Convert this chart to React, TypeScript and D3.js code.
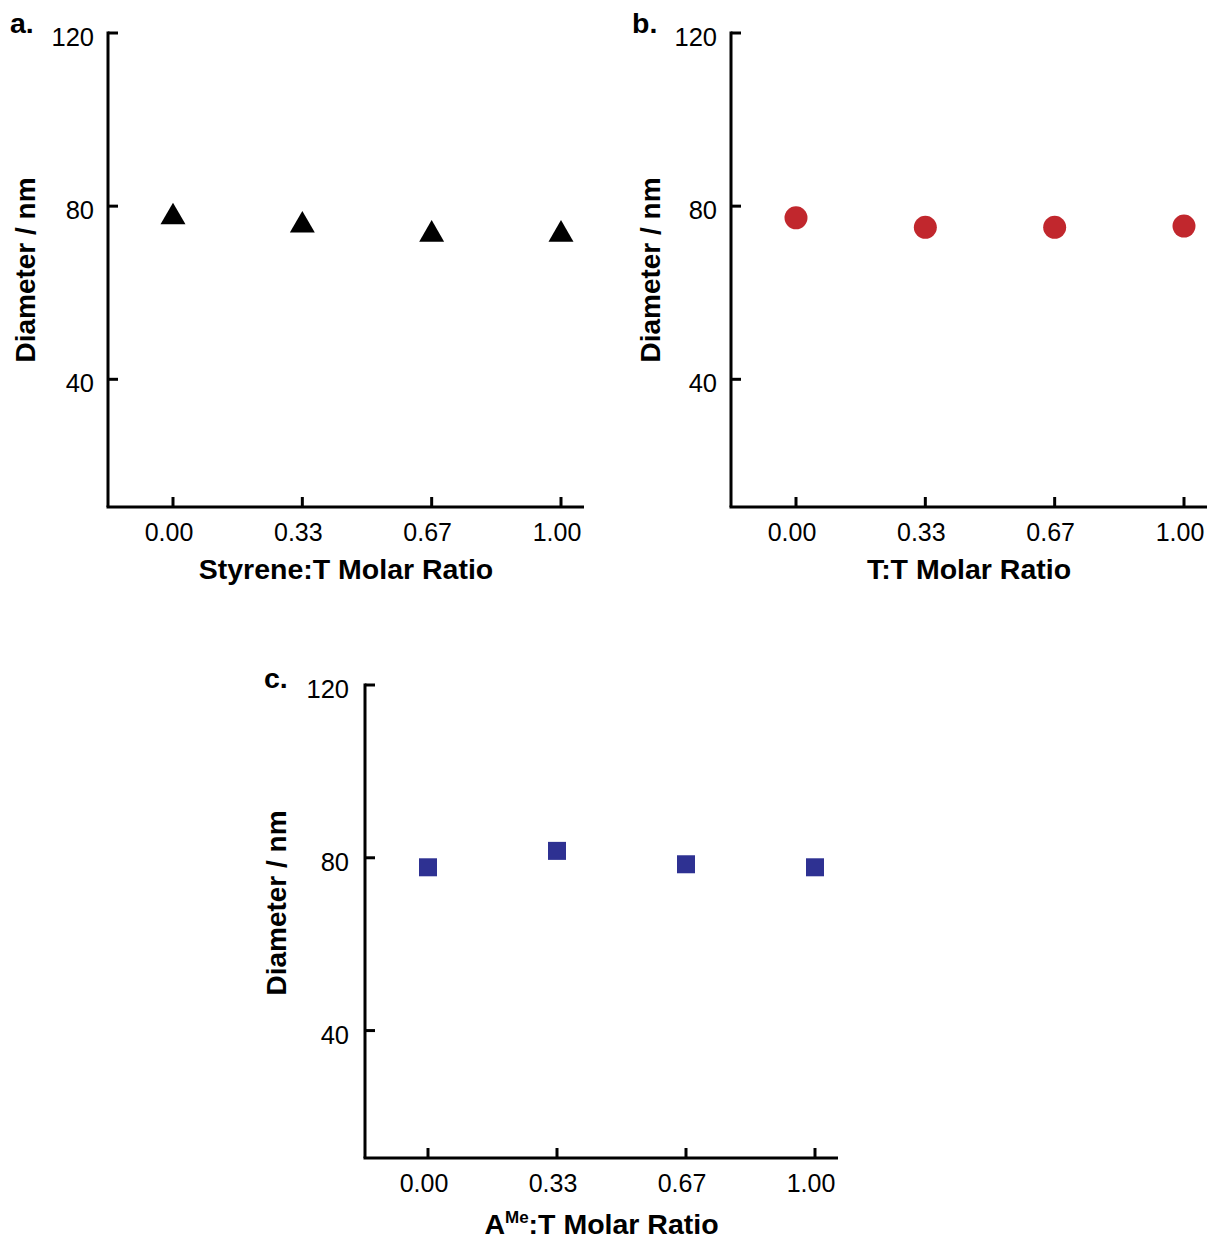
import React from "react";
import * as d3 from "d3";

// molar ratio categories (x ticks)
const ratios = ["0.00", "0.33", "0.67", "1.00"];
// diameter values (nm)
const styreneDiameter = [78.3, 76.4, 74.3, 74.3];
const ttDiameter = [77.3, 75.1, 75.1, 75.4];
const ameDiameter = [77.8, 81.6, 78.5, 77.8];
const yTicks = [40, 80, 120];

const FONT = "'Liberation Sans', Arial, Helvetica, sans-serif";
const RED = "#c1272d";
const BLUE = "#2e3192";

type PanelProps = {
  letter: string;
  letterX: number;
  letterY: number;
  axisX: number;
  top: number;
  bottom: number;
  xFirst: number;
  xLast: number;
  axisEnd: number;
  yLabelX: number;
  yLabelY: number;
  tickLabelGap: number;
  titleGap: number;
  values: number[];
  marker: "triangle" | "circle" | "square";
  color: string;
  title: React.ReactNode;
};

function Panel(p: PanelProps) {
  const x = d3.scalePoint<string>().domain(ratios).range([p.xFirst, p.xLast]);
  const y = d3.scaleLinear().domain([10.5, 120]).range([p.bottom, p.top]);
  const tri = d3.symbol().type(d3.symbolTriangle).size(270)();
  const triLift = Math.sqrt(270 / (Math.sqrt(3) * 3)) / 2;
  const tick = 10;

  return (
    <g>
      <text x={p.letterX} y={p.letterY} fontFamily={FONT} fontWeight="bold" fontSize={28.5}>
        {p.letter}
      </text>

      {/* y axis */}
      <line x1={p.axisX} x2={p.axisX} y1={p.top - 1.5} y2={p.bottom} stroke="#000" strokeWidth={3} />
      {yTicks.map((t) => (
        <g key={t}>
          <line x1={p.axisX} x2={p.axisX + tick} y1={y(t)} y2={y(t)} stroke="#000" strokeWidth={3} />
          <text
            x={p.axisX - p.tickLabelGap}
            y={y(t) + 4}
            textAnchor="end"
            dominantBaseline="central"
            fontFamily={FONT}
            fontSize={25.5}
          >
            {t}
          </text>
        </g>
      ))}
      <text
        transform={`translate(${p.yLabelX},${p.yLabelY}) rotate(-90)`}
        textAnchor="middle"
        fontFamily={FONT}
        fontWeight="bold"
        fontSize={28}
      >
        Diameter / nm
      </text>

      {/* x axis */}
      <line x1={p.axisX - 1.5} x2={p.axisEnd} y1={p.bottom} y2={p.bottom} stroke="#000" strokeWidth={3} />
      {ratios.map((r) => (
        <g key={r}>
          <line x1={x(r)} x2={x(r)} y1={p.bottom} y2={p.bottom - tick} stroke="#000" strokeWidth={3} />
          <text x={(x(r) as number) - 4} y={p.bottom + 34} textAnchor="middle" fontFamily={FONT} fontSize={25}>
            {r}
          </text>
        </g>
      ))}
      <text
        x={(p.axisX + p.axisEnd) / 2}
        y={p.bottom + p.titleGap}
        textAnchor="middle"
        fontFamily={FONT}
        fontWeight="bold"
        fontSize={28.5}
      >
        {p.title}
      </text>

      {/* points */}
      {p.values.map((v, i) => {
        const cx = x(ratios[i]) as number;
        const cy = y(v);
        if (p.marker === "triangle")
          return <path key={i} d={tri as string} transform={`translate(${cx},${cy + triLift})`} fill={p.color} />;
        if (p.marker === "circle") return <circle key={i} cx={cx} cy={cy} r={11.5} fill={p.color} />;
        return <rect key={i} x={cx - 9} y={cy - 9} width={18} height={18} fill={p.color} />;
      })}
    </g>
  );
}

export default function App() {
  return (
    <svg
      width={1207}
      height={1241}
      style={{ position: "absolute", left: 0, top: 0, background: "#fff" }}
    >
      <Panel
        letter="a."
        letterX={10}
        letterY={33}
        axisX={108}
        top={33}
        bottom={507}
        xFirst={173}
        xLast={561}
        axisEnd={584}
        yLabelX={35}
        yLabelY={270}
        tickLabelGap={14}
        titleGap={72}
        values={styreneDiameter}
        marker="triangle"
        color="#000"
        title="Styrene:T Molar Ratio"
      />
      <Panel
        letter="b."
        letterX={632}
        letterY={33}
        axisX={731}
        top={33}
        bottom={507}
        xFirst={796}
        xLast={1184}
        axisEnd={1207}
        yLabelX={660}
        yLabelY={270}
        tickLabelGap={14}
        titleGap={72}
        values={ttDiameter}
        marker="circle"
        color={RED}
        title="T:T Molar Ratio"
      />
      <Panel
        letter="c."
        letterX={264}
        letterY={688}
        axisX={365}
        top={685}
        bottom={1158}
        xFirst={428}
        xLast={815}
        axisEnd={838}
        yLabelX={286}
        yLabelY={903}
        tickLabelGap={16}
        titleGap={76}
        values={ameDiameter}
        marker="square"
        color={BLUE}
        title={
          <>
            A
            <tspan fontSize={17} dy={-11}>
              Me
            </tspan>
            <tspan dy={11}>:T Molar Ratio</tspan>
          </>
        }
      />
    </svg>
  );
}
